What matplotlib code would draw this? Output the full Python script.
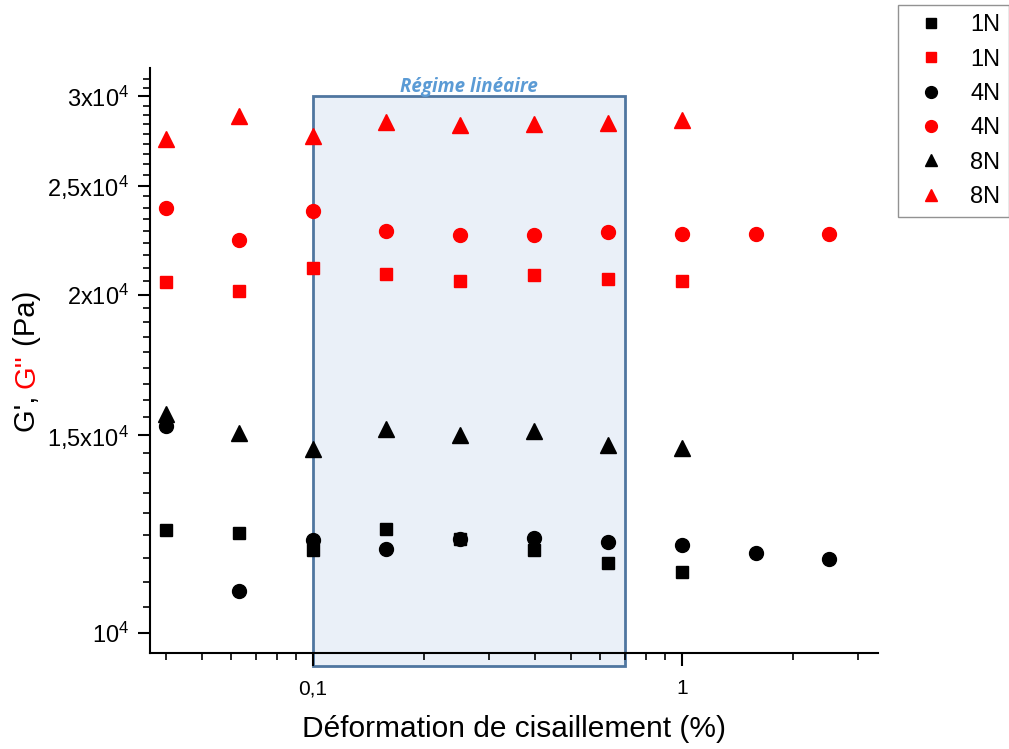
import numpy as np
import matplotlib
matplotlib.use("Agg")
import matplotlib.pyplot as plt
from matplotlib.patches import Rectangle
from matplotlib.ticker import FixedLocator, NullFormatter, LogLocator
from matplotlib.lines import Line2D

plt.rcParams['font.family'] = ['Liberation Sans', 'DejaVu Sans']
plt.rcParams['mathtext.fontset'] = 'custom'
plt.rcParams['mathtext.rm'] = 'Liberation Sans'
plt.rcParams['mathtext.it'] = 'Liberation Sans:italic'

# déformation (%)
strain = [0.04, 0.063, 0.1, 0.158, 0.251, 0.398, 0.631, 1.0, 1.585, 2.51]

# G' (noir)
g1_1N = [1.235e4, 1.227e4, 1.185e4, 1.238e4, 1.212e4, 1.185e4, 1.154e4, 1.133e4]
g1_4N = [1.529e4, 1.09e4, 1.21e4, 1.188e4, 1.212e4, 1.215e4, 1.205e4, 1.198e4, 1.178e4, 1.164e4]
g1_8N = [1.567e4, 1.507e4, 1.458e4, 1.519e4, 1.50e4, 1.513e4, 1.47e4, 1.461e4]

# G'' (rouge)
g2_1N = [2.05e4, 2.016e4, 2.11e4, 2.084e4, 2.058e4, 2.08e4, 2.066e4, 2.058e4]
g2_4N = [2.386e4, 2.234e4, 2.375e4, 2.28e4, 2.257e4, 2.257e4, 2.275e4, 2.266e4, 2.266e4, 2.262e4]
g2_8N = [2.748e4, 2.88e4, 2.765e4, 2.845e4, 2.828e4, 2.834e4, 2.84e4, 2.857e4]

y_ticks = [1e4, 1.5e4, 2e4, 2.5e4, 3e4]
y_ticklabels = ['10$^4$', '1,5x10$^4$', '2x10$^4$', '2,5x10$^4$', '3x10$^4$']

# zone linéaire
lin_start, lin_end = 0.1, 0.7

fig = plt.figure(figsize=(10.09, 7.49), dpi=100)
ax = fig.add_axes([0.1487, 0.1282, 0.7215, 0.781])
ax.set_xscale('log')
ax.set_yscale('log')
ax.set_xlim(0.0362, 3.4)
ax.set_ylim(9600, 3.18e4)

ax.add_patch(Rectangle((lin_start, 9350), lin_end - lin_start, 3e4 - 9350,
                       facecolor='#EAF0F8', edgecolor='#4F76A0', lw=2,
                       clip_on=False, zorder=1))
ax.text(np.sqrt(lin_start * lin_end), 3.06e4, 'Régime linéaire', color='#5B9BD5',
        fontsize=13.5, fontweight='bold', fontstyle='italic', family='Open Sans',
        ha='center', va='center')

series = [
    (g1_1N, 'k', 's', 9, '1N'),
    (g2_1N, 'red', 's', 9, '1N'),
    (g1_4N, 'k', 'o', 10, '4N'),
    (g2_4N, 'red', 'o', 10, '4N'),
    (g1_8N, 'k', '^', 11, '8N'),
    (g2_8N, 'red', '^', 11, '8N'),
]
handles = []
for vals, col, mk, ms, lab in series:
    ax.plot(strain[:len(vals)], vals, ls='none', marker=mk, ms=ms,
            color=col, mec=col, zorder=3, clip_on=False)
    handles.append(Line2D([], [], ls='none', marker=mk, ms=ms * 0.85, color=col, label=lab))

for s in ['top', 'right']:
    ax.spines[s].set_visible(False)
for s in ['left', 'bottom']:
    ax.spines[s].set_linewidth(1.5)
    ax.spines[s].set_zorder(4)

ax.yaxis.set_major_locator(FixedLocator(y_ticks))
ax.set_yticklabels(y_ticklabels)
minors = []
for a, b in zip(y_ticks[:-1], y_ticks[1:]):
    minors += list(np.linspace(a, b, 10)[1:-1])
minors += [3e4 + 5000 / 9 * k for k in (1, 2)]
minors += [1e4 - 5000 / 9]
ax.yaxis.set_minor_locator(FixedLocator(minors))
ax.yaxis.set_minor_formatter(NullFormatter())

ax.xaxis.set_major_locator(FixedLocator([0.1, 1]))
ax.set_xticklabels(['0,1', '1'])
ax.xaxis.set_minor_locator(LogLocator(base=10, subs=np.arange(2, 10)))
ax.xaxis.set_minor_formatter(NullFormatter())

ax.tick_params(which='major', direction='out', length=9, width=1.5)
ax.tick_params(which='minor', direction='out', length=5, width=1.2)
ax.tick_params(axis='x', which='major', pad=10, labelsize=15)
ax.tick_params(axis='y', which='major', pad=6, labelsize=17)

ax.set_xlabel('Déformation de cisaillement (%)', fontsize=21.5, labelpad=12)

# étiquette de l'axe y en deux couleurs
renderer = fig.canvas.get_renderer()
y = (749 - 432) / 749
for txt, col in [("G', ", 'k'), ("G''", 'red'), (" (Pa)", 'k')]:
    t = fig.text(27 / 1009, y, txt, rotation=90, color=col, fontsize=21,
                 ha='center', va='bottom')
    y += t.get_window_extent(renderer).height / fig.bbox.height

fig.legend(handles=handles, loc='upper left', bbox_to_anchor=(898 / 1009, 1 - 5 / 749),
           fontsize=17, frameon=True, fancybox=False, edgecolor='#777777',
           handlelength=2.0, handletextpad=0.65, labelspacing=0.52,
           borderpad=0.4, borderaxespad=0, markerfirst=True)

fig.savefig('out.png', dpi=100)
